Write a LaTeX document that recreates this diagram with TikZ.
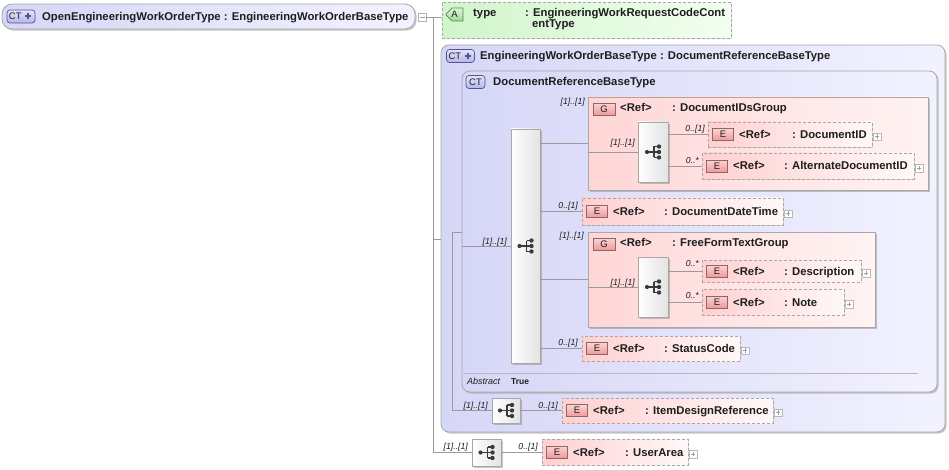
\documentclass[tikz,border=0pt]{standalone}
\usepackage{fontspec}
\setmainfont{Liberation Sans}
\usetikzlibrary{shadows,shapes.misc,calc}
\definecolor{lineC}{HTML}{9A9A9A}
\definecolor{bord}{HTML}{A8A8A8}
\definecolor{ctA}{HTML}{D6D6F7}
\definecolor{ctB}{HTML}{F2F2FF}
\definecolor{eA}{HTML}{FFD0D0}
\definecolor{eB}{HTML}{FFF8F8}
\definecolor{gA}{HTML}{FFD6D6}
\definecolor{gB}{HTML}{FFF3F3}
\definecolor{tagE1}{HTML}{FCD4D4}
\definecolor{tagE2}{HTML}{EE9A9A}
\definecolor{tagEd}{HTML}{8E6666}
\definecolor{aA}{HTML}{D0F5CA}
\definecolor{aB}{HTML}{F2FFF0}
\definecolor{tagA1}{HTML}{DDF6D6}
\definecolor{tagA2}{HTML}{9CDA94}
\definecolor{tagAd}{HTML}{5E7E5E}
\definecolor{tagC1}{HTML}{E4E4FC}
\definecolor{tagC2}{HTML}{B4B4EC}
\definecolor{tagCd}{HTML}{55558A}
\definecolor{txtC}{HTML}{1E1E1E}
\definecolor{icoC}{HTML}{3A3A3A}
\tikzset{
  conn/.style={draw=lineC, line width=0.8pt},
  box/.style={anchor=north west, inner sep=0pt, outer sep=0pt},
  shad/.style={drop shadow={shadow xshift=1.6pt, shadow yshift=-1.6pt, fill=gray, opacity=0.45}},
  lshad/.style={drop shadow={shadow xshift=1.2pt, shadow yshift=-1.2pt, fill=gray, opacity=0.25}},
  ctbox/.style={box, draw=bord, line width=0.8pt, rounded corners=8pt, left color=ctA, right color=ctB, shad},
  ebox/.style={box, draw=bord, line width=0.8pt, dash pattern=on 3pt off 2pt, left color=eA, right color=eB, lshad},
  gbox/.style={box, draw=bord, line width=0.9pt, left color=gA, right color=gB, shad},
  seqbox/.style={box, draw=bord, line width=0.8pt, left color=white, right color=gray!22, shad},
  typebx/.style={chamfered rectangle, chamfered rectangle corners={north west,south west}, chamfered rectangle xsep=5pt, draw=bord, line width=0.8pt, dash pattern=on 3pt off 2pt, left color=aA, right color=aB, inner sep=0pt, lshad},
  tagE/.style={rectangle, draw=tagEd, line width=0.7pt, top color=tagE1, bottom color=tagE2, minimum width=21pt, minimum height=12pt, inner sep=0pt, font=\fontsize{9.5}{10}\selectfont, text=txtC},
  tagA/.style={chamfered rectangle, chamfered rectangle corners={north west,south west}, chamfered rectangle xsep=3pt, draw=tagAd, line width=0.7pt, top color=tagA1, bottom color=tagA2, minimum width=17pt, minimum height=12pt, inner sep=0pt, font=\fontsize{9.5}{10}\selectfont, text=txtC},
  tagC/.style={rectangle, rounded corners=3pt, draw=tagCd, line width=0.7pt, top color=tagC1, bottom color=tagC2, minimum height=13pt, inner sep=0pt, font=\fontsize{9.5}{10}\selectfont, text=txtC},
  card/.style={font=\fontsize{8.7}{9}\selectfont\itshape, text=txtC, anchor=base east, inner sep=0pt},
  lbl/.style={font=\fontsize{11.3}{12}\selectfont\bfseries, text=txtC, anchor=base west, inner sep=0pt},
  plusbox/.style={draw=gray!55, fill=white, minimum size=7.5pt, inner sep=0pt,
    path picture={\draw[gray!75, line width=0.6pt] ([xshift=-2.2pt]path picture bounding box.center) -- ([xshift=2.2pt]path picture bounding box.center) ([yshift=-2.2pt]path picture bounding box.center) -- ([yshift=2.2pt]path picture bounding box.center);}},
  minusbox/.style={draw=gray!60, fill=white, minimum size=8.5pt, inner sep=0pt,
    path picture={\draw[gray!75, line width=0.6pt] ([xshift=-2.5pt]path picture bounding box.center) -- ([xshift=2.5pt]path picture bounding box.center);}},
  seqicon/.pic={
    \draw[line width=1.1pt, draw=icoC] (-7,0) -- (0,0) (0,-5.5) -- (0,5.5) (0,-5.5) -- (5,-5.5) (0,0) -- (5,0) (0,5.5) -- (5,5.5);
    \fill[icoC] (-7,0) circle (2.1pt) (5,-5.5) circle (2.2pt) (5,0) circle (2.2pt) (5,5.5) circle (2.2pt);
  }
}
% E element: name, x1, y1, x2, y2, colon x, name text
\newcommand\elemE[7]{%
  \node[ebox, minimum width={#4-#2}, minimum height={#5-#3}] (#1) at (#2,#3) {};
  \node[tagE] (#1-tag) at ({#2+15},{(#3+#5)/2}) {E};
  \node[lbl] (#1-ref) at ({#2+31},{(#3+#5)/2+4}) {<Ref>};
  \node[lbl] (#1-name) at (#6,{(#3+#5)/2+4}) {: #7};
  \node[plusbox] (#1-plus) at ({#4+5},{(#3+#5)/2+2}) {};
}
% sequence compositor: name, x1, y1, x2, y2
\newcommand\seqB[5]{%
  \node[seqbox, minimum width={#4-#2}, minimum height={#5-#3}] (#1) at (#2,#3) {};
  \pic at ([xshift=1pt]#1.center) {seqicon};
}
% CT+ tag
\newcommand\ctplus[3]{%
  \node[tagC, minimum width=28pt, text width=26pt, align=left] (#1) at (#2,#3) {\hspace{1pt}CT};
  \draw[line width=2pt, tagCd] ([xshift=-10pt]#1.east) -- ([xshift=-4pt]#1.east) ([xshift=-7pt,yshift=-3pt]#1.east) -- ([xshift=-7pt,yshift=3pt]#1.east);
}
\begin{document}
\begin{tikzpicture}[x=1pt,y=-1pt]
\useasboundingbox (0,0) rectangle (949,470);

% ---------- root ----------
\node[ctbox, minimum width=413pt, minimum height=25pt, rounded corners=10pt] (root) at (2,4) {};
\ctplus{rootct}{21}{16.5}
\node[lbl] (roottext) at (42,21) {OpenEngineeringWorkOrderType : EngineeringWorkOrderBaseType};
\node[minusbox] (rootminus) at (422,17) {};

% ---------- attribute ----------
\node[typebx, minimum width=289pt, minimum height=36pt] (typebox) at (586.5,20) {};
\node[tagA] (atag) at (454.5,14.5) {A};
\node[lbl] (typename) at (473,17) {type};
\node[lbl] (typetype1) at (525,17) {: EngineeringWorkRequestCodeCont};
\node[lbl] (typetype2) at (532,28) {entType};

% ---------- outer complex type ----------
\node[ctbox, minimum width=504pt, minimum height=387pt] (outer) at (441,45) {};
\ctplus{outerct}{460.5}{56}
\node[lbl] (outertext) at (480,60) {EngineeringWorkOrderBaseType : DocumentReferenceBaseType};

% ---------- inner complex type ----------
\node[ctbox, minimum width=475pt, minimum height=321pt] (inner) at (462,71) {};
\node[tagC, minimum width=19pt] (innerct) at (475.5,82) {CT};
\node[lbl] (innertext) at (493,86) {DocumentReferenceBaseType};

% main sequence
\seqB{mseq}{511}{129}{540}{363}

% group DocumentIDsGroup
\node[gbox, minimum width=340pt, minimum height=93pt] (g1) at (588,97) {};
\node[tagE, minimum width=22pt] (g1-tag) at (604,109) {G};
\node[lbl] (g1-ref) at (620,112) {<Ref>};
\node[lbl] (g1-name) at (672,112) {: DocumentIDsGroup};
\seqB{s2}{638}{122}{668}{182}
\elemE{docid}{708}{122}{872}{147}{792}{DocumentID}
\elemE{alt}{702}{153}{914}{179}{784}{AlternateDocumentID}

\elemE{ddt}{582}{198}{783}{225}{664}{DocumentDateTime}

% group FreeFormTextGroup
\node[gbox, minimum width=287pt, minimum height=95pt] (g2) at (588,232) {};
\node[tagE, minimum width=22pt] (g2-tag) at (604,244) {G};
\node[lbl] (g2-ref) at (620,247) {<Ref>};
\node[lbl] (g2-name) at (672,247) {: FreeFormTextGroup};
\seqB{s3}{638}{257}{668}{317}
\elemE{desc}{702}{260}{861}{282}{784}{Description}
\elemE{note}{702}{289}{844}{315}{784}{Note}

\elemE{status}{582}{336}{740}{361}{664}{StatusCode}

% abstract row
\coordinate (sepL) at (463,373);
\coordinate (sepR) at (918,373);
\draw[draw=gray!55, line width=0.8pt] (sepL) -- (sepR);
\node[font=\fontsize{9}{10}\selectfont\itshape, text=txtC, anchor=base west, inner sep=0pt] (abs) at (467,384) {Abstract};
\node[font=\fontsize{8.5}{10}\selectfont\bfseries, text=txtC, anchor=base west, inner sep=0pt] (abstrue) at (511,384) {True};

% ItemDesignReference
\seqB{idseq}{492}{398}{520}{423}
\elemE{idref}{562}{398}{773}{423}{645}{ItemDesignReference}

% UserArea
\seqB{uaseq}{472}{439}{501}{466}
\elemE{ua}{542}{439}{688}{465}{625}{UserArea}

% ---------- connectors ----------
\coordinate (trunk) at (433,18);
\coordinate (j1) at (433,239);
\coordinate (k1) at (452,232);
\draw[conn] (rootminus.east) -- (rootminus.east -| typebox.west);
\draw[conn] (trunk) |- (uaseq.west);
\draw[conn] (j1) -- (j1 -| outer.west);
\draw[conn] (k1 -| inner.west) -- (k1) |- (idseq.west);
\draw[conn] (inner.west |- mseq.west) -- (mseq.west);
\draw[conn] (mseq.east |- g1.west) -- (g1.west);
\draw[conn] (mseq.east |- ddt.west) -- (ddt.west);
\draw[conn] (mseq.east |- g2.west) -- (g2.west);
\draw[conn] (mseq.east |- status.west) -- (status.west);
\draw[conn] (g1.west |- s2.west) -- (s2.west);
\draw[conn] (s2.east |- docid.west) -- (docid.west);
\draw[conn] (s2.east |- alt.west) -- (alt.west);
\draw[conn] (g2.west |- s3.west) -- (s3.west);
\draw[conn] (s3.east |- desc.west) -- (desc.west);
\draw[conn] (s3.east |- note.west) -- (note.west);
\draw[conn] (idseq.east |- idref.west) -- (idref.west);
\draw[conn] (uaseq.east |- ua.west) -- (ua.west);

% ---------- cardinalities ----------
\node[card] (c-g1) at (585,105) {[1]..[1]};
\node[card] (c-s2) at (635,146) {[1]..[1]};
\node[card] (c-docid) at (705,132) {0..[1]};
\node[card] (c-alt) at (699,164) {0..*};
\node[card] (c-ddt) at (578,208) {0..[1]};
\node[card] (c-mseq) at (507,244) {[1]..[1]};
\node[card] (c-g2) at (584,238) {[1]..[1]};
\node[card] (c-s3) at (635,285) {[1]..[1]};
\node[card] (c-desc) at (699,266) {0..*};
\node[card] (c-note) at (699,298) {0..*};
\node[card] (c-status) at (578,345) {0..[1]};
\node[card] (c-idseq) at (488,408) {[1]..[1]};
\node[card] (c-idref) at (558,408) {0..[1]};
\node[card] (c-uaseq) at (468,449) {[1]..[1]};
\node[card] (c-ua) at (538,449) {0..[1]};
\end{tikzpicture}
\end{document}
